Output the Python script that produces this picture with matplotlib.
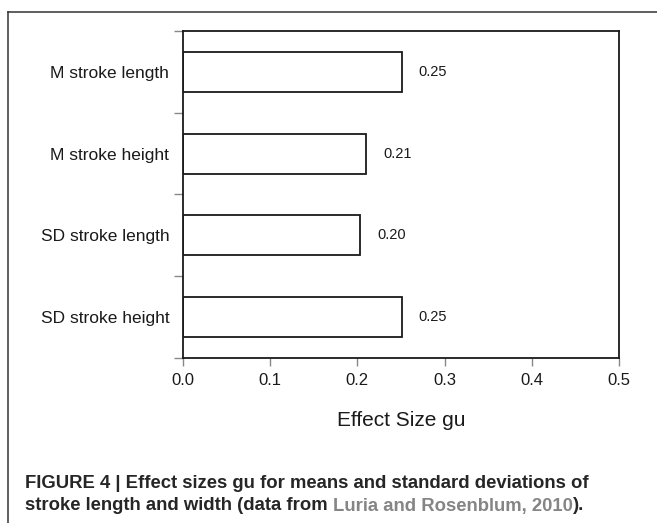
import matplotlib
matplotlib.use("Agg")
import matplotlib.pyplot as plt
from matplotlib import font_manager
from matplotlib.lines import Line2D
from matplotlib.ticker import FixedLocator

categories = ["M stroke length", "M stroke height", "SD stroke length", "SD stroke height"]
values = [0.251, 0.210, 0.203, 0.251]
value_labels = ["0.25", "0.21", "0.20", "0.25"]
x_ticks = [0.0, 0.1, 0.2, 0.3, 0.4, 0.5]
x_label = "Effect Size gu"
caption_line1 = "FIGURE 4 | Effect sizes gu for means and standard deviations of"
caption_line2_parts = [("stroke length and width (data from ", "#262626"),
                       ("Luria and Rosenblum, 2010", "#858585"),
                       (").", "#262626")]

W, H = 657, 523
fig = plt.figure(figsize=(W / 100, H / 100), dpi=100)
fig.patch.set_facecolor("white")

names = {f.name for f in font_manager.fontManager.ttflist}
base_font = "Liberation Sans" if "Liberation Sans" in names else "DejaVu Sans"
cap_font = "Liberation Sans Narrow" if "Liberation Sans Narrow" in names else base_font
plt.rcParams["font.family"] = [base_font, "DejaVu Sans"]

# outer frame (top and left edges of the figure panel)
fig.add_artist(Line2D([8 / W, 8 / W], [0, 1 - 12 / H], transform=fig.transFigure,
                      color="#333333", lw=1.1))
fig.add_artist(Line2D([8 / W, 1], [1 - 12 / H, 1 - 12 / H], transform=fig.transFigure,
                      color="#333333", lw=1.1))

ax_l, ax_r, ax_t, ax_b = 182.7, 619.3, 31.0, 357.7
ax = fig.add_axes([ax_l / W, 1 - ax_b / H, (ax_r - ax_l) / W, (ax_b - ax_t) / H])

ypos = list(range(len(categories)))
ax.barh(ypos, values, height=0.49, color="white", edgecolor="#1a1a1a", linewidth=1.3)
for y, v, lab in zip(ypos, values, value_labels):
    ax.annotate(lab, xy=(v, y), xytext=(17, 0), textcoords="offset pixels",
                ha="left", va="center", fontsize=10.5, color="#1a1a1a")

ax.set_xlim(0, 0.5)
ax.set_ylim(len(categories) - 0.5, -0.5)

ax.set_xticks(x_ticks)
ax.set_xticklabels([f"{t:.1f}" for t in x_ticks])
ax.tick_params(axis="x", direction="out", length=6, width=1.0, color="#888888",
               labelsize=12, pad=5, labelcolor="#1a1a1a")

ax.set_yticks(ypos)
ax.set_yticklabels(categories)
ax.tick_params(axis="y", which="major", length=0, pad=9.6, labelsize=12.5,
               labelcolor="#1a1a1a")
ax.yaxis.set_minor_locator(FixedLocator([i - 0.5 for i in range(len(categories) + 1)]))
ax.tick_params(axis="y", which="minor", direction="out", length=6.5, width=1.0,
               color="#888888")

for s in ax.spines.values():
    s.set_color("#1a1a1a")
    s.set_linewidth(1.3)

ax.set_xlabel(x_label, fontsize=15, color="#1a1a1a")
ax.xaxis.set_label_coords(0.5, -(420 - ax_b) / (ax_b - ax_t))
ax.xaxis.label.set_va("center")

# caption
fig.canvas.draw()
renderer = fig.canvas.get_renderer()
t1 = fig.text(25 / W, 1 - 483.3 / H, caption_line1, fontsize=12.4, fontweight="bold",
              family=cap_font, color="#262626", va="center", ha="left")
w1 = t1.get_window_extent(renderer).width
cap_size = 12.4 * 566 / w1
t1.set_fontsize(cap_size)

x = 25.0
for txt, col in caption_line2_parts:
    t = fig.text(x / W, 1 - 506 / H, txt, fontsize=cap_size, fontweight="bold",
                 family=cap_font, color=col, va="center", ha="left")
    x += t.get_window_extent(renderer).width

fig.savefig("out.png", dpi=100, facecolor="white")
